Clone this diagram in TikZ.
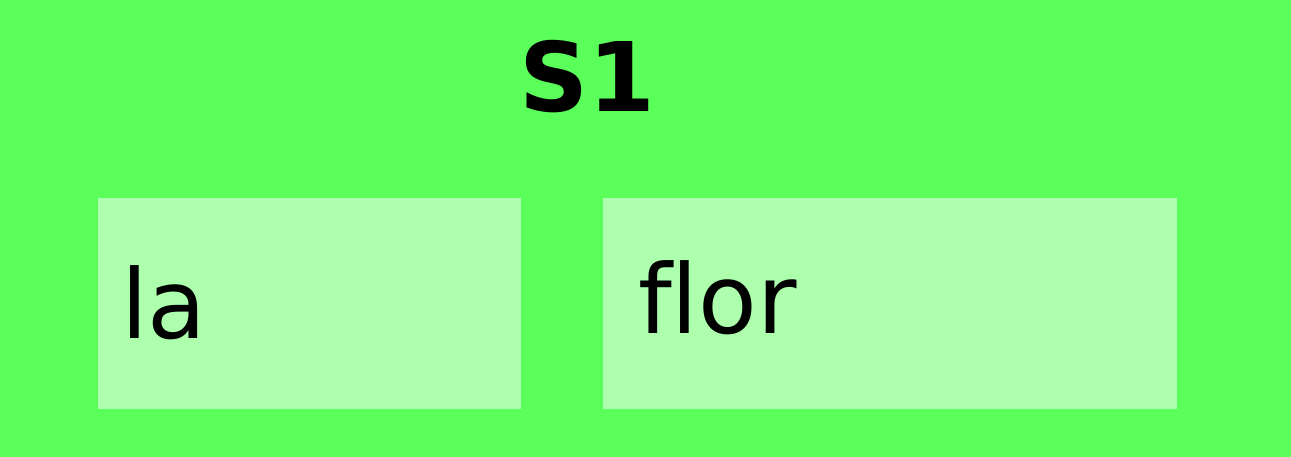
\documentclass[tikz,border=0pt]{standalone}
\usepackage{fontspec}
\setmainfont[Ligatures=NoCommon]{DejaVu Sans}
\definecolor{bg}{HTML}{5AFF5A}
\definecolor{boxc}{HTML}{ADFFAD}
\begin{document}
\begin{tikzpicture}[x=1pt,y=-1pt,
  wordbox/.style={fill=boxc,draw=none},
  wordtext/.style={anchor=base west,inner sep=0pt,font=\fontsize{96}{110}\selectfont},
  titletext/.style={anchor=base,inner sep=0pt,font=\bfseries\fontsize{96}{112}\selectfont}]
\useasboundingbox (0,0) rectangle (1291,457);
\fill[bg] (0,0) rectangle (1291,457);
\node[titletext] (title) at (587,112) {S1};
\path[wordbox] (98,198) rectangle (521,409);
\path[wordbox] (603,198) rectangle (1177,409);
\node[wordtext] (w1) at (121,338) {la};
\node[wordtext] (w2) at (638,333) {f{}lor};
\end{tikzpicture}
\end{document}
